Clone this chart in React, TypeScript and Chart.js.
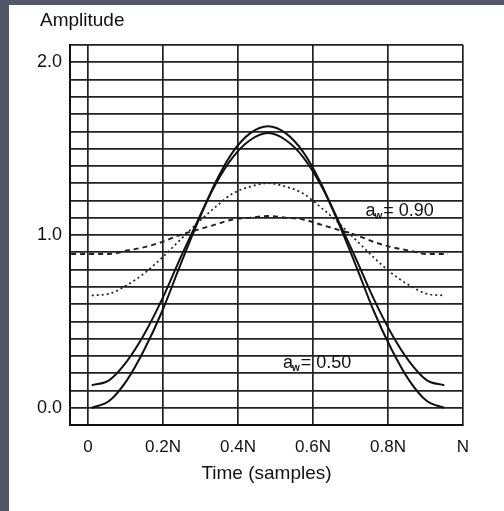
import React, { useEffect, useRef } from "react";
import { Chart, registerables } from "chart.js";

Chart.register(...registerables);

// Time axis positions (fraction of N)
const timeValues = [0.01, 0.057, 0.104, 0.151, 0.198, 0.245, 0.292, 0.339, 0.386, 0.433, 0.48, 0.527, 0.574, 0.621, 0.668, 0.715, 0.762, 0.809, 0.856, 0.903, 0.95];
const dashedTime = [-0.045, 0.01, 0.057, 0.104, 0.151, 0.198, 0.245, 0.292, 0.339, 0.386, 0.433, 0.48, 0.527, 0.574, 0.621, 0.668, 0.715, 0.762, 0.809, 0.856, 0.903, 0.96];

// Window amplitudes
const solidA050 = [0, 0.04, 0.16, 0.34, 0.56, 0.82, 1.07, 1.3, 1.48, 1.59, 1.63, 1.59, 1.48, 1.3, 1.07, 0.82, 0.56, 0.34, 0.16, 0.04, 0];
const solidA054 = [0.13, 0.16, 0.27, 0.43, 0.63, 0.86, 1.08, 1.29, 1.45, 1.55, 1.59, 1.55, 1.45, 1.29, 1.08, 0.86, 0.63, 0.43, 0.27, 0.16, 0.13];
const dottedA075 = [0.65, 0.66, 0.71, 0.78, 0.87, 0.97, 1.07, 1.16, 1.24, 1.28, 1.3, 1.28, 1.24, 1.16, 1.07, 0.97, 0.87, 0.78, 0.71, 0.66, 0.65];
const dashedA090 = [0.89, 0.89, 0.89, 0.91, 0.93, 0.96, 1.0, 1.03, 1.06, 1.09, 1.1, 1.11, 1.1, 1.09, 1.06, 1.03, 1.0, 0.96, 0.93, 0.91, 0.89, 0.89];

// Tick labels
const xTickValues = [0, 0.2, 0.4, 0.6, 0.8, 1.0];
const xTickLabels = ["0", "0.2N", "0.4N", "0.6N", "0.8N", "N"];
const yTickValues = [0, 1, 2];
const yTickLabels = ["0.0", "1.0", "2.0"];

// Curve annotations
const annotationLabels = ["0.90", "0.50"];
const annotationX = [0.74, 0.52];
const annotationY = [1.14, 0.26];

const FONT = "'Liberation Sans', Arial, sans-serif";

const toPoints = (xs: number[], ys: number[]) => ys.map((y, i) => ({ x: xs[i], y }));

export default function App() {
  const canvasRef = useRef<HTMLCanvasElement | null>(null);

  useEffect(() => {
    const canvas = canvasRef.current;
    if (!canvas) return;

    const textPlugin = {
      id: "texts",
      afterDatasetsDraw(chart: any) {
        const ctx = chart.ctx;
        const xs = chart.scales.x;
        const ys = chart.scales.y;
        ctx.save();
        ctx.fillStyle = "#111";
        ctx.textBaseline = "middle";
        ctx.textAlign = "left";
        ctx.font = `19px ${FONT}`;
        ctx.fillText("Amplitude", 40, 21);
        annotationLabels.forEach((lab, i) => {
          const px = xs.getPixelForValue(annotationX[i]);
          const py = ys.getPixelForValue(annotationY[i]);
          ctx.font = `18px ${FONT}`;
          ctx.fillText("a", px, py);
          const wa = ctx.measureText("a").width;
          ctx.font = `bold 10px ${FONT}`;
          ctx.fillText("w", px + wa - 1, py + 5);
          const ww = ctx.measureText("w").width;
          ctx.font = `18px ${FONT}`;
          ctx.fillText("= " + lab, px + wa + ww, py);
        });
        ctx.restore();
      },
    };

    const chart = new Chart(canvas, {
      type: "line",
      data: {
        datasets: [
          {
            data: toPoints(timeValues, solidA050),
            borderColor: "#111",
            borderWidth: 2,
            pointRadius: 0,
            cubicInterpolationMode: "monotone",
            fill: false,
          },
          {
            data: toPoints(timeValues, solidA054),
            borderColor: "#111",
            borderWidth: 2,
            pointRadius: 0,
            cubicInterpolationMode: "monotone",
            fill: false,
          },
          {
            data: toPoints(timeValues, dottedA075),
            borderColor: "#222",
            borderWidth: 1.7,
            borderDash: [2, 3],
            pointRadius: 0,
            cubicInterpolationMode: "monotone",
            fill: false,
          },
          {
            data: toPoints(dashedTime, dashedA090),
            borderColor: "#222",
            borderWidth: 1.9,
            borderDash: [5, 4],
            pointRadius: 0,
            cubicInterpolationMode: "monotone",
            fill: false,
          },
        ],
      },
      options: {
        responsive: false,
        animation: false,
        devicePixelRatio: 1,
        layout: { padding: { left: 0, top: 45, right: 41, bottom: 0 } },
        plugins: {
          legend: { display: false },
          tooltip: { enabled: false },
          title: { display: false },
        },
        scales: {
          x: {
            type: "linear",
            min: -0.048,
            max: 1.0,
            afterFit: (scale: any) => {
              scale.height = 86;
            },
            afterBuildTicks: (scale: any) => {
              scale.ticks = xTickValues.map((v) => ({ value: v }));
            },
            grid: { color: "#222", lineWidth: 1.7, drawTicks: false },
            border: { display: true, color: "#111", width: 2 },
            ticks: {
              autoSkip: false,
              maxRotation: 0,
              padding: 12,
              color: "#111",
              font: { family: FONT, size: 17 },
              callback: (_v: any, i: number) => xTickLabels[i],
            },
            title: {
              display: true,
              text: "Time (samples)",
              color: "#111",
              font: { family: FONT, size: 19 },
              padding: { top: 0, bottom: 26 },
            },
          },
          y: {
            type: "linear",
            min: -0.1,
            max: 2.1,
            afterFit: (scale: any) => {
              scale.width = 70;
            },
            afterBuildTicks: (scale: any) => {
              const t: { value: number }[] = [];
              for (let i = -1; i <= 21; i++) t.push({ value: i / 10 });
              scale.ticks = t;
            },
            grid: { color: "#222", lineWidth: 1.7, drawTicks: false },
            border: { display: true, color: "#111", width: 2 },
            ticks: {
              autoSkip: false,
              padding: 8,
              color: "#111",
              font: { family: FONT, size: 18 },
              callback: (v: any) => {
                const idx = yTickValues.findIndex((t) => Math.abs(t - Number(v)) < 1e-6);
                return idx >= 0 ? yTickLabels[idx] : "";
              },
            },
          },
        },
      },
      plugins: [textPlugin],
    } as any);

    return () => chart.destroy();
  }, []);

  return (
    <div
      style={{
        position: "absolute",
        left: 0,
        top: 0,
        width: 504,
        height: 511,
        background: "#525767",
        overflow: "hidden",
      }}
    >
      <div style={{ position: "absolute", left: 9, top: 5, right: 0, bottom: 0, background: "#ffffff" }} />
      <canvas
        ref={canvasRef}
        width={504}
        height={511}
        style={{ position: "absolute", left: 0, top: 0, width: 504, height: 511 }}
      />
    </div>
  );
}
